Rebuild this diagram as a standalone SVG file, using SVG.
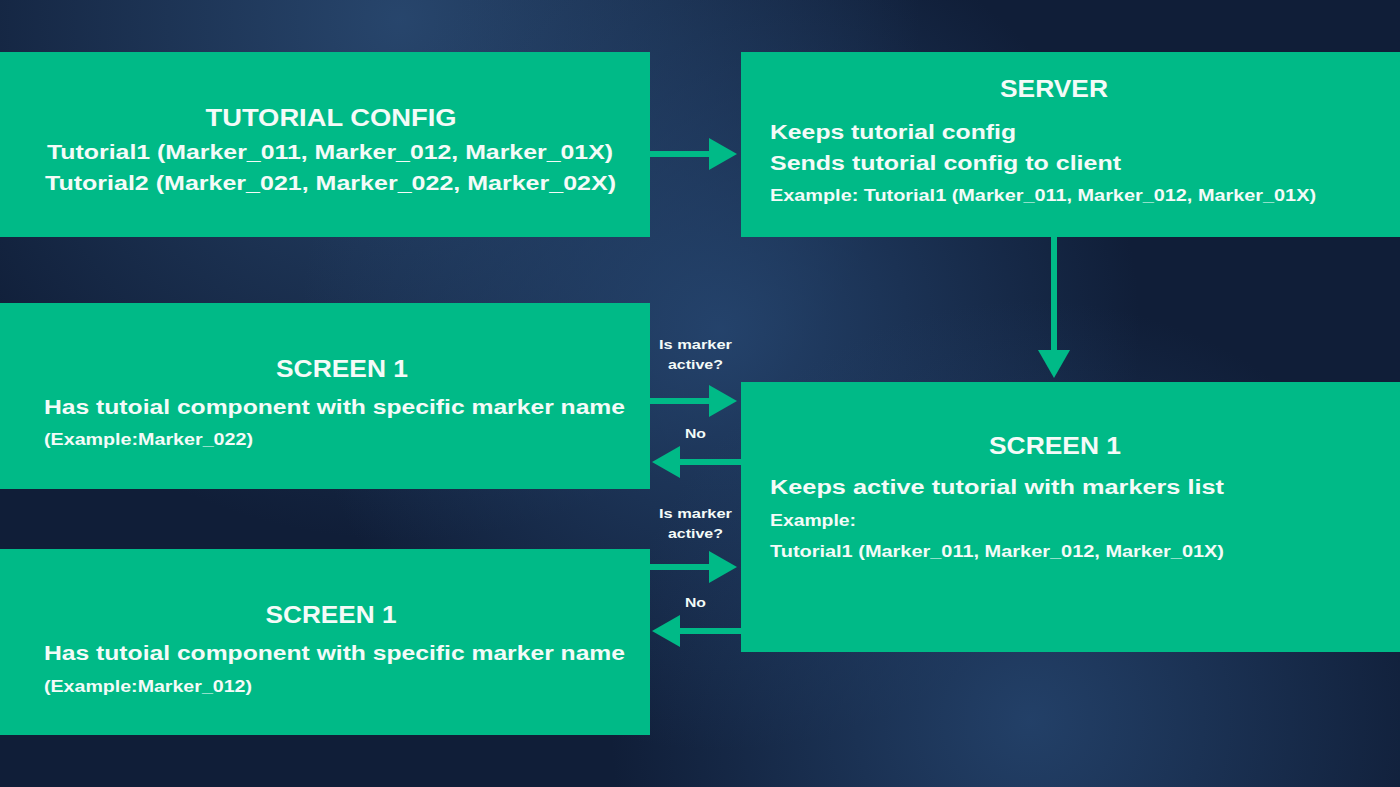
<svg xmlns="http://www.w3.org/2000/svg" width="1400" height="787" viewBox="0 0 1400 787">
<defs>
<radialGradient id="g1" cx="400" cy="20" r="520" gradientUnits="userSpaceOnUse">
<stop offset="0" stop-color="#2a4a72" stop-opacity="0.9"/><stop offset="1" stop-color="#2a4a72" stop-opacity="0"/>
</radialGradient>
<radialGradient id="g2" cx="720" cy="330" r="420" gradientUnits="userSpaceOnUse">
<stop offset="0" stop-color="#264670" stop-opacity="0.9"/><stop offset="1" stop-color="#264670" stop-opacity="0"/>
</radialGradient>
<radialGradient id="g3" cx="1030" cy="720" r="420" gradientUnits="userSpaceOnUse">
<stop offset="0" stop-color="#264670" stop-opacity="0.85"/><stop offset="1" stop-color="#264670" stop-opacity="0"/>
</radialGradient>
<marker id="ah" viewBox="0 0 28 32" refX="1" refY="16" markerWidth="28" markerHeight="32" markerUnits="userSpaceOnUse" orient="auto">
<path d="M0,0 L28,16 L0,32 Z" fill="#00BA87"/>
</marker>
</defs>
<style>
.box{fill:#00BA87}
.t{font-family:"Liberation Sans",Arial,sans-serif;font-weight:bold;fill:#f4fbf8}
.h{font-size:23px}
.m{font-size:20px}
.s{font-size:16px}
.l{font-size:13px}
.c{stroke:#00BA87;stroke-width:6;fill:none}
</style>
<rect width="1400" height="787" fill="#101e38"/>
<rect width="1400" height="787" fill="url(#g1)"/>
<rect width="1400" height="787" fill="url(#g2)"/>
<rect width="1400" height="787" fill="url(#g3)"/>

<g id="connectors">
<line class="c" x1="650" y1="154" x2="710" y2="154" marker-end="url(#ah)"/>
<line class="c" x1="1054" y1="237" x2="1054" y2="351" marker-end="url(#ah)"/>
<line class="c" x1="650" y1="401" x2="710" y2="401" marker-end="url(#ah)"/>
<line class="c" x1="741" y1="462" x2="679" y2="462" marker-end="url(#ah)"/>
<line class="c" x1="650" y1="567" x2="710" y2="567" marker-end="url(#ah)"/>
<line class="c" x1="741" y1="631" x2="679" y2="631" marker-end="url(#ah)"/>
<text class="t l" x="695.5" y="349" text-anchor="middle" textLength="73" lengthAdjust="spacingAndGlyphs">Is marker</text>
<text class="t l" x="695.5" y="369" text-anchor="middle" textLength="55" lengthAdjust="spacingAndGlyphs">active?</text>
<text class="t l" x="695.5" y="438" text-anchor="middle" textLength="21" lengthAdjust="spacingAndGlyphs">No</text>
<text class="t l" x="695.5" y="518" text-anchor="middle" textLength="73" lengthAdjust="spacingAndGlyphs">Is marker</text>
<text class="t l" x="695.5" y="538" text-anchor="middle" textLength="55" lengthAdjust="spacingAndGlyphs">active?</text>
<text class="t l" x="695.5" y="607" text-anchor="middle" textLength="21" lengthAdjust="spacingAndGlyphs">No</text>
</g>

<g id="tutorial-config">
<rect class="box" x="0" y="52" width="650" height="185"/>
<text class="t h" x="331" y="126" text-anchor="middle" textLength="251" lengthAdjust="spacingAndGlyphs">TUTORIAL CONFIG</text>
<text class="t m" x="330" y="159" text-anchor="middle" textLength="566" lengthAdjust="spacingAndGlyphs">Tutorial1 (Marker_011, Marker_012, Marker_01X)</text>
<text class="t m" x="330.5" y="190" text-anchor="middle" textLength="571" lengthAdjust="spacingAndGlyphs">Tutorial2 (Marker_021, Marker_022, Marker_02X)</text>
</g>

<g id="server">
<rect class="box" x="741" y="52" width="659" height="185"/>
<text class="t h" x="1054" y="97" text-anchor="middle" textLength="108" lengthAdjust="spacingAndGlyphs">SERVER</text>
<text class="t m" x="770" y="139" textLength="246" lengthAdjust="spacingAndGlyphs">Keeps tutorial config</text>
<text class="t m" x="770" y="170" textLength="351" lengthAdjust="spacingAndGlyphs">Sends tutorial config to client</text>
<text class="t s" x="770" y="201" textLength="546" lengthAdjust="spacingAndGlyphs">Example: Tutorial1 (Marker_011, Marker_012, Marker_01X)</text>
</g>

<g id="screen-left-1">
<rect class="box" x="0" y="303" width="650" height="186"/>
<text class="t h" x="342" y="377" text-anchor="middle" textLength="132" lengthAdjust="spacingAndGlyphs">SCREEN 1</text>
<text class="t m" x="44" y="414" textLength="581" lengthAdjust="spacingAndGlyphs">Has tutoial component with specific marker name</text>
<text class="t s" x="44" y="445" textLength="209" lengthAdjust="spacingAndGlyphs">(Example:Marker_022)</text>
</g>

<g id="screen-left-2">
<rect class="box" x="0" y="549" width="650" height="186"/>
<text class="t h" x="331" y="623" text-anchor="middle" textLength="131" lengthAdjust="spacingAndGlyphs">SCREEN 1</text>
<text class="t m" x="44" y="660" textLength="581" lengthAdjust="spacingAndGlyphs">Has tutoial component with specific marker name</text>
<text class="t s" x="44" y="692" textLength="208" lengthAdjust="spacingAndGlyphs">(Example:Marker_012)</text>
</g>

<g id="screen-right">
<rect class="box" x="741" y="382" width="659" height="270"/>
<text class="t h" x="1055" y="454" text-anchor="middle" textLength="132" lengthAdjust="spacingAndGlyphs">SCREEN 1</text>
<text class="t m" x="770" y="494" textLength="454" lengthAdjust="spacingAndGlyphs">Keeps active tutorial with markers list</text>
<text class="t s" x="770" y="526" textLength="86" lengthAdjust="spacingAndGlyphs">Example:</text>
<text class="t s" x="770" y="557" textLength="454" lengthAdjust="spacingAndGlyphs">Tutorial1 (Marker_011, Marker_012, Marker_01X)</text>
</g>
</svg>
